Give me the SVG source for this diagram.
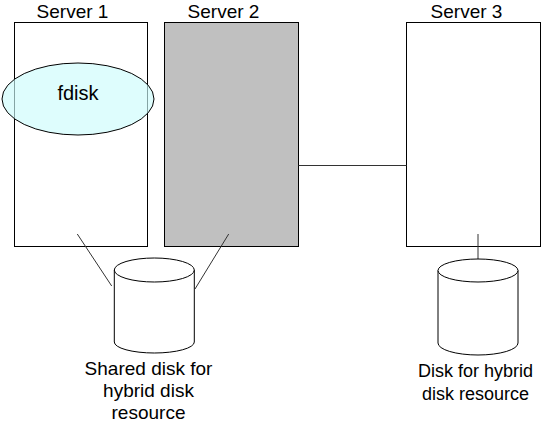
<svg xmlns="http://www.w3.org/2000/svg" width="544" height="424" viewBox="0 0 544 424">
<style>
.lbl{font-family:"Liberation Sans",Arial,sans-serif;font-size:19px;fill:#000;text-anchor:middle}
.srv{stroke:#000;stroke-width:1}
.ln{stroke:#333;stroke-width:1;fill:none}
.cyl{fill:#fff;stroke:#000;stroke-width:1}
</style>
<rect width="544" height="424" fill="#fff"/>
<g id="server1">
<rect class="srv" x="14.5" y="22.5" width="133" height="224" fill="#fff"/>
<text class="lbl" x="72.5" y="18">Server 1</text>
</g>
<g id="server2">
<rect class="srv" x="164.5" y="22.5" width="134" height="224" fill="#c0c0c0"/>
<text class="lbl" x="223.5" y="18">Server 2</text>
</g>
<g id="server3">
<rect class="srv" x="406.5" y="22.5" width="134" height="224" fill="#fff"/>
<text class="lbl" x="466.5" y="18">Server 3</text>
</g>
<g id="fdisk">
<ellipse cx="78" cy="99" rx="76" ry="36" fill="#ccfcfc" fill-opacity="0.65" stroke="#000" stroke-width="1"/>
<text class="lbl" x="78" y="100" style="font-size:20px">fdisk</text>
</g>
<g id="connectors">
<line class="ln" x1="298.5" y1="165.5" x2="406.5" y2="165.5" stroke="#555"/>
<line class="ln" x1="77.3" y1="234" x2="111.7" y2="286"/>
<line class="ln" x1="228.7" y1="234" x2="195" y2="289"/>
<line class="ln" x1="478" y1="234" x2="478" y2="262"/>
</g>
<g id="shareddisk">
<path class="cyl" d="M114.3,270 L114.3,342 A40,11 0 0 0 194.3,342 L194.3,270"/>
<ellipse class="cyl" cx="154.3" cy="270" rx="40" ry="12"/>
<text class="lbl" x="148.5" y="375">Shared disk for</text>
<text class="lbl" x="148.5" y="397">hybrid disk</text>
<text class="lbl" x="148.5" y="419">resource</text>
</g>
<g id="hybriddisk">
<path class="cyl" d="M438,270.5 L438,343 A40,12 0 0 0 518,343 L518,270.5"/>
<ellipse class="cyl" cx="478" cy="270.5" rx="40" ry="11.5"/>
<text class="lbl" x="475.5" y="377" style="font-size:18px">Disk for hybrid</text>
<text class="lbl" x="475.5" y="400" style="font-size:18px">disk resource</text>
</g>
</svg>
